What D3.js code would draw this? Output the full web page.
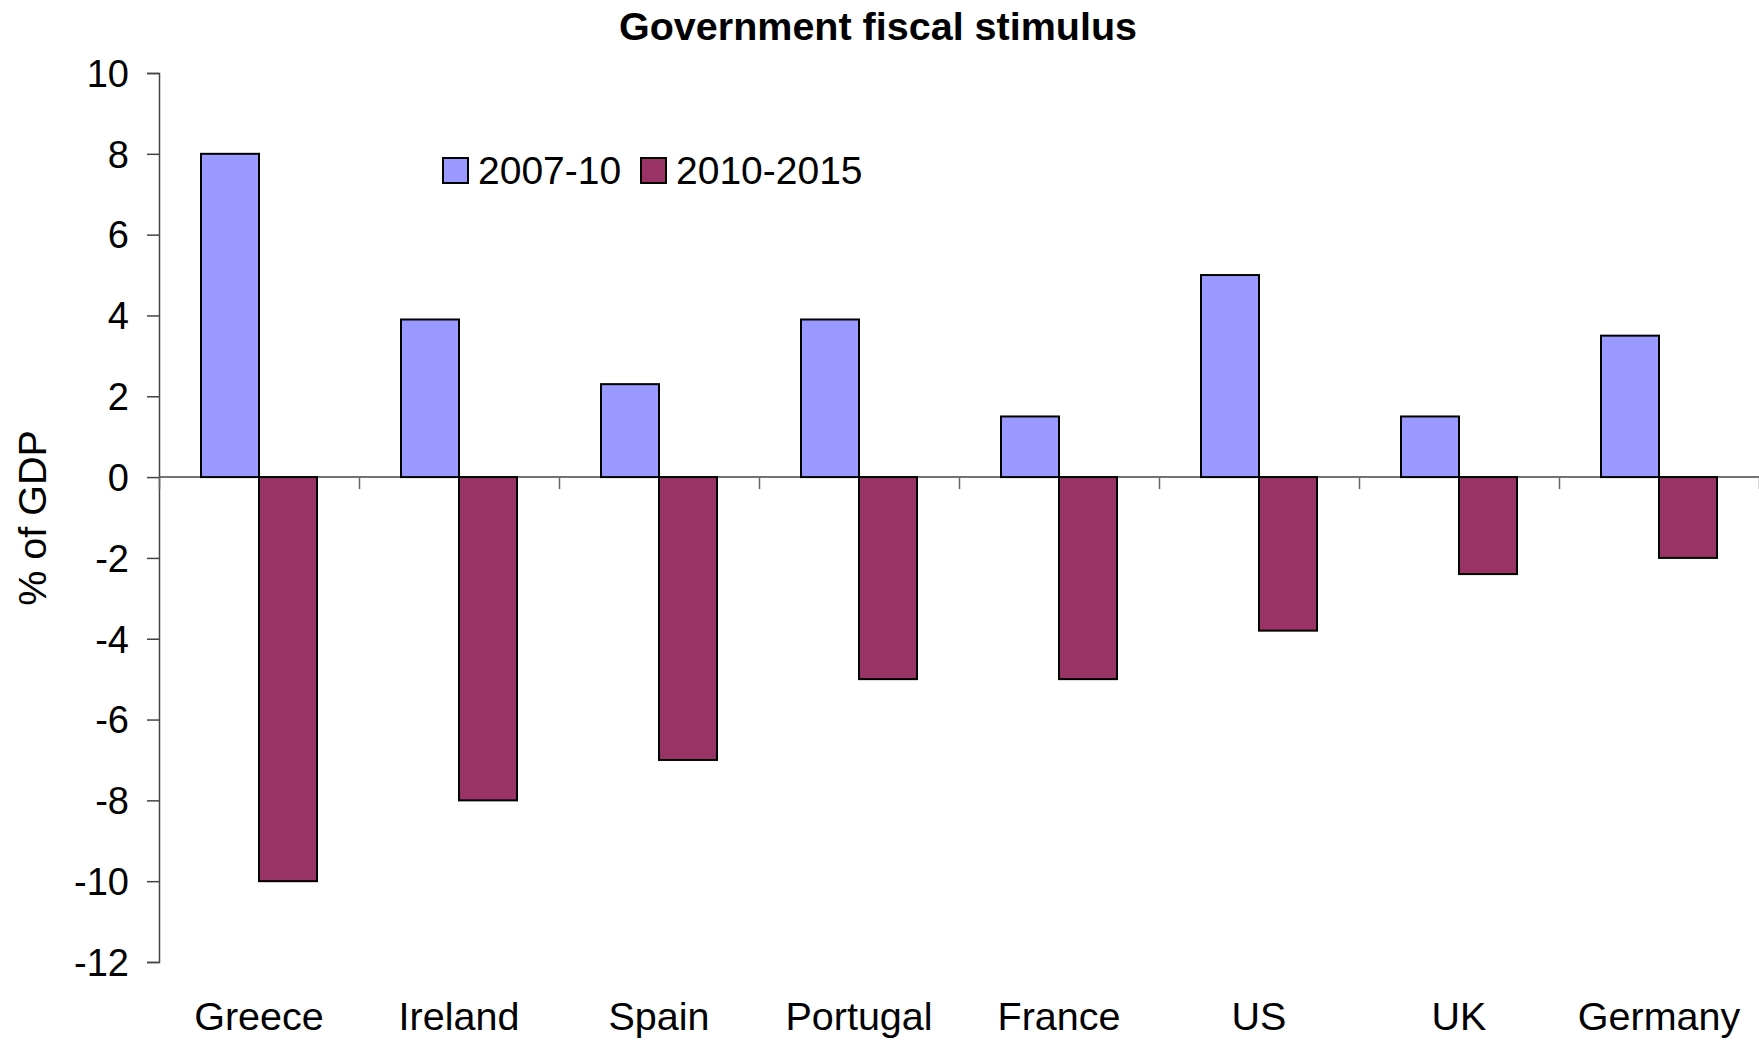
<!DOCTYPE html>
<html>
<head>
<meta charset="utf-8">
<script src="https://cdn.jsdelivr.net/npm/d3@7"></script>
<style>
  body { margin: 0; background: #fff; }
  text { font-family: "Liberation Sans", Arial, sans-serif; }
</style>
</head>
<body>
<div id="draw"></div>
<script>
// data
var countries = ['Greece', 'Ireland', 'Spain', 'Portugal', 'France', 'US', 'UK', 'Germany'];
var stim0710 = [8, 3.9, 2.3, 3.9, 1.5, 5, 1.5, 3.5];
var stim1015 = [-10, -8, -7, -5, -5, -3.8, -2.4, -2];
var seriesNames = ['2007-10', '2010-2015'];
var yTicks = [10, 8, 6, 4, 2, 0, -2, -4, -6, -8, -10, -12];

var W = 1759, H = 1040;
var mLeft = 159, mRight = 1759, mTop = 73, mBottom = 962;
var colors = ['#9999ff', '#993366'];

var svg = d3.select('#draw').append('svg').attr('width', W).attr('height', H);

var x0 = d3.scaleBand().domain(countries).range([mLeft, mRight])
    .paddingInner(0.42).paddingOuter(0.21);
var x1 = d3.scaleBand().domain(seriesNames).range([0, x0.bandwidth()]);
var y = d3.scaleLinear().domain([-12, 10]).range([mBottom, mTop]);

// y axis (plain hyphen for negatives, like the original)
var yAxis = svg.append('g').attr('transform', 'translate(' + mLeft + ',0)')
    .call(d3.axisLeft(y).tickValues(yTicks).tickSize(12).tickPadding(18)
        .tickFormat(function(d) { return String(d); }));
yAxis.select('.domain').attr('stroke', '#444').attr('stroke-width', 1.5);
yAxis.selectAll('.tick line').attr('stroke', '#444').attr('stroke-width', 1.5);
yAxis.selectAll('.tick text').attr('font-size', 38).attr('fill', '#000')
    .attr('font-family', '"Liberation Sans", Arial, sans-serif').attr('dy', '0.35em');

// zero line with category ticks
var step = x0.step();
var xAxisScale = d3.scaleLinear().domain([0, countries.length]).range([mLeft, mLeft + step * countries.length]);
var xz = svg.append('g').attr('transform', 'translate(0,' + y(0) + ')')
    .call(d3.axisBottom(xAxisScale).ticks(countries.length).tickSize(12).tickFormat(''));
xz.select('.domain').attr('stroke', '#444').attr('stroke-width', 1.5).attr('d', 'M' + mLeft + ',0H' + mRight);
xz.selectAll('.tick line').attr('stroke', '#666').attr('stroke-width', 1.5);

// bars
var rows = countries.map(function(c, i) {
    return { name: c, vals: [stim0710[i], stim1015[i]] };
});
var g = svg.selectAll('g.grp').data(rows).enter().append('g')
    .attr('transform', function(d) { return 'translate(' + x0(d.name) + ',0)'; });
g.selectAll('rect').data(function(d) {
    return d.vals.map(function(v, j) { return { s: seriesNames[j], v: v, j: j }; });
}).enter().append('rect')
    .attr('x', function(d) { return x1(d.s); })
    .attr('y', function(d) { return y(Math.max(0, d.v)); })
    .attr('width', x1.bandwidth())
    .attr('height', function(d) { return Math.abs(y(d.v) - y(0)); })
    .attr('fill', function(d) { return colors[d.j]; })
    .attr('stroke', '#000').attr('stroke-width', 2);

// category labels
svg.selectAll('text.cat').data(countries).enter().append('text')
    .attr('class', 'cat')
    .attr('x', function(d) { return x0(d) + x0.bandwidth() / 2; })
    .attr('y', 1030)
    .attr('text-anchor', 'middle')
    .attr('font-size', 39.5)
    .text(function(d) { return d; });

// title
svg.append('text').attr('x', 878).attr('y', 40).attr('text-anchor', 'middle')
    .attr('font-size', 39.5).attr('font-weight', 'bold').text('Government fiscal stimulus');

// y label
svg.append('text').attr('transform', 'translate(46,518) rotate(-90)')
    .attr('text-anchor', 'middle').attr('font-size', 39.5).text('% of GDP');

// legend
var lg = svg.append('g');
var legX = [443, 641];
seriesNames.forEach(function(s, i) {
    lg.append('rect').attr('x', legX[i]).attr('y', 158).attr('width', 25).attr('height', 25)
        .attr('fill', colors[i]).attr('stroke', '#000').attr('stroke-width', 2);
    lg.append('text').attr('x', legX[i] + 35).attr('y', 184).attr('font-size', 39).text(s);
});
</script>
</body>
</html>
